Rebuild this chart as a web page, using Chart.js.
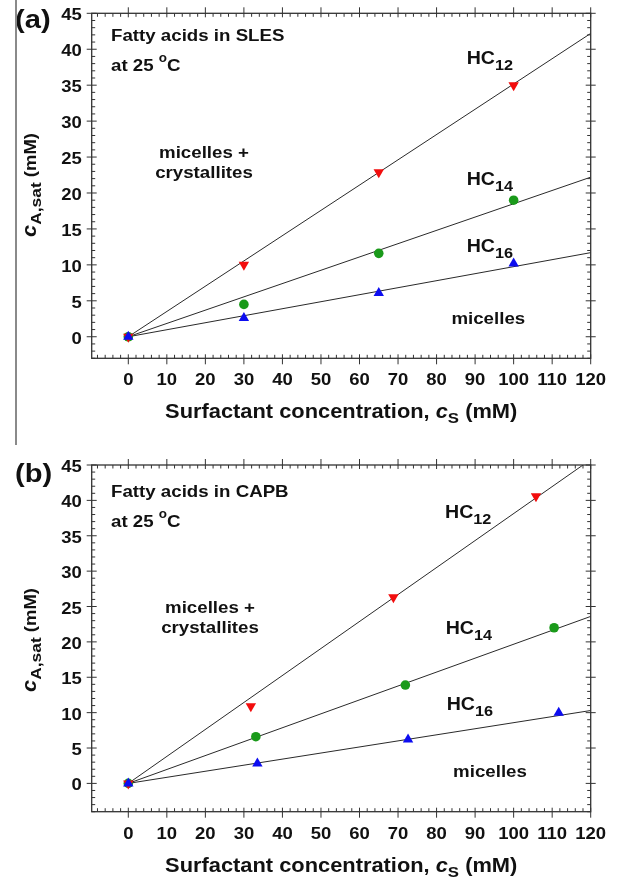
<!DOCTYPE html>
<html><head><meta charset="utf-8">
<script src="https://cdn.jsdelivr.net/npm/chart.js@4/dist/chart.umd.min.js"></script>
<style>
html,body{margin:0;padding:0;background:#fff;}
#wrap{position:relative;width:619px;height:882px;overflow:hidden;background:#fff}
canvas{position:absolute;left:0}
#ca{top:0}
#cb{top:441px}
#edge{position:absolute;left:15px;top:0;width:1.5px;height:445px;background:#8a8a8a}
</style></head><body>
<div id="wrap">
<canvas id="ca" width="619" height="441"></canvas>
<canvas id="cb" width="619" height="441"></canvas>
<div id="edge"></div>
</div>
<script>
// ---- tick labels ----
const xTickLabels = ['0','10','20','30','40','50','60','70','80','90','100','110','120'];
const yTickLabels = ['0','5','10','15','20','25','30','35','40','45'];

// ---- Panel (a): fatty acids in SLES ----
const aCsHC12 = [0, 30, 65, 100];
const aCaHC12 = [0, 10, 22.9, 35];
const aCsHC14 = [0, 30, 65, 100];
const aCaHC14 = [0, 4.5, 11.6, 19];
const aCsHC16 = [0, 30, 65, 100];
const aCaHC16 = [0, 2.6, 6.1, 10.2];
const aFitCs12 = [0, 120];  const aFitCa12 = [0, 42.2];
const aFitCs14 = [0, 120];  const aFitCa14 = [0, 22.2];
const aFitCs16 = [0, 120];  const aFitCa16 = [0, 11.7];

// ---- Panel (b): fatty acids in CAPB ----
const bCsHC12 = [0, 31.8, 68.8, 105.8];
const bCaHC12 = [0, 10.9, 26.3, 40.6];
const bCsHC14 = [0, 33.1, 71.9, 110.5];
const bCaHC14 = [0, 6.6, 13.9, 22.0];
const bCsHC16 = [0, 33.5, 72.6, 111.7];
const bCaHC16 = [0, 2.8, 6.2, 10.0];
const bFitCs12 = [0, 118];  const bFitCa12 = [0, 45];
const bFitCs14 = [0, 120];  const bFitCa14 = [0, 23.6];
const bFitCs16 = [0, 120];  const bFitCa16 = [0, 10.3];

const RED = '#f20d0d', GREEN = '#1a9a1a', BLUE = '#0d0df0';
const SX = 1.12;
const FF = '"Liberation Sans", Arial, Helvetica, sans-serif';

function pts(xs, ys){ return xs.map((x,i)=>({x:x, y:ys[i]})); }
function fnt(p){ return (p.italic ? 'italic ' : '') + 'bold ' + p.size + 'px ' + FF; }
function runs(ctx, parts, x, y, align, rot){
  const w = parts.map(p => { ctx.font = fnt(p); return ctx.measureText(p.t).width; });
  const total = w.reduce((a,b)=>a+b,0);
  let cx = align === 'center' ? -total/2 : (align === 'right' ? -total : 0);
  ctx.save();
  ctx.translate(x, y);
  if (rot) ctx.rotate(rot);
  ctx.scale(SX, 1);
  ctx.textAlign = 'left'; ctx.textBaseline = 'alphabetic'; ctx.fillStyle = '#111';
  parts.forEach((p,i) => { ctx.font = fnt(p); ctx.fillText(p.t, cx, p.dy || 0); cx += w[i]; });
  ctx.restore();
}

function makePanel(id, cfg){
  const deco = {
    id: 'deco',
    afterDraw(chart){
      const ctx = chart.ctx, xs = chart.scales.x, ys = chart.scales.y, a = chart.chartArea;
      ctx.save();
      ctx.strokeStyle = '#333'; ctx.lineWidth = 1.3;
      ctx.strokeRect(a.left, a.top, a.right - a.left, a.bottom - a.top);
      ctx.lineWidth = 1;
      ctx.beginPath();
      // minor x ticks (every 2)
      for (let v = Math.ceil(xs.min/2)*2; v < xs.max; v += 2){
        if (v % 10 === 0 && v >= 0) continue;
        const px = xs.getPixelForValue(v);
        ctx.moveTo(px, a.bottom); ctx.lineTo(px, a.bottom - 3.5);
        ctx.moveTo(px, a.top); ctx.lineTo(px, a.top + 3.5);
      }
      // minor y ticks (every 1)
      for (let v = Math.ceil(ys.min); v < ys.max; v += 1){
        if (v % 5 === 0 && v >= 0) continue;
        const py = ys.getPixelForValue(v);
        ctx.moveTo(a.left, py); ctx.lineTo(a.left + 3.5, py);
        ctx.moveTo(a.right, py); ctx.lineTo(a.right - 3.5, py);
      }
      // major ticks
      xTickLabels.forEach(s => {
        const px = xs.getPixelForValue(Number(s));
        ctx.moveTo(px, a.bottom - 4); ctx.lineTo(px, a.bottom + 6);
        ctx.moveTo(px, a.top + 4); ctx.lineTo(px, a.top - 6);
      });
      yTickLabels.forEach(s => {
        const py = ys.getPixelForValue(Number(s));
        ctx.moveTo(a.left - 5, py); ctx.lineTo(a.left + 5, py);
        ctx.moveTo(a.right - 5, py); ctx.lineTo(a.right + 5, py);
      });
      ctx.stroke();
      ctx.restore();
      // tick labels
      xTickLabels.forEach(s => runs(ctx, [{t:s,size:16.5}], xs.getPixelForValue(Number(s)), a.bottom + 27, 'center'));
      yTickLabels.forEach(s => runs(ctx, [{t:s,size:16.5}], a.left - 10, ys.getPixelForValue(Number(s)) + 7, 'right'));
      // axis titles
      runs(ctx, [{t:'Surfactant concentration, ',size:19.5},{t:'c',size:19.5,italic:true},{t:'S',size:15,dy:5},{t:' (mM)',size:19.5}],
           (a.left + a.right)/2, a.bottom + 60, 'center');
      runs(ctx, [{t:'c',size:19.5,italic:true},{t:'A,sat',size:15.5,dy:5},{t:' (mM)',size:16.5}],
           36, cfg.yTitleY, 'center', -Math.PI/2);
      // panel annotations
      runs(ctx, [{t:cfg.tag,size:26}], 15, cfg.tagY, 'left');
      runs(ctx, [{t:cfg.title,size:16.7}], 111, cfg.titleY, 'left');
      runs(ctx, [{t:'at 25 ',size:16.7},{t:'o',size:12,dy:-9},{t:'C',size:16.7}], 111, cfg.titleY + 30, 'left');
      runs(ctx, [{t:'micelles +',size:16.7}], cfg.mcX, cfg.mcY, 'center');
      runs(ctx, [{t:'crystallites',size:16.7}], cfg.mcX, cfg.mcY + 20, 'center');
      cfg.hc.forEach(h => runs(ctx, [{t:'HC',size:17.5},{t:h.n,size:14.5,dy:6}], h.x, h.y, 'left'));
      runs(ctx, [{t:'micelles',size:16.7}], cfg.mX, cfg.mY, 'center');
    }
  };
  const line = (d) => ({data:d, showLine:true, borderColor:'#2a2a2a', borderWidth:1, pointRadius:0, fill:false, order:2});
  new Chart(document.getElementById(id), {
    type: 'scatter',
    data: { datasets: [
      {data: cfg.s12, pointStyle:'triangle', rotation:180, pointRadius:6, backgroundColor:RED, borderColor:RED, borderWidth:0, order:1},
      {data: cfg.s14, pointStyle:'circle', pointRadius:4.8, backgroundColor:GREEN, borderColor:GREEN, borderWidth:0, order:1},
      {data: cfg.s16, pointStyle:'triangle', pointRadius:6, backgroundColor:BLUE, borderColor:BLUE, borderWidth:0, order:0},
      line(cfg.f12), line(cfg.f14), line(cfg.f16)
    ]},
    options: {
      responsive:false, animation:false, devicePixelRatio:1,
      layout:{padding:cfg.pad},
      plugins:{legend:{display:false}, tooltip:{enabled:false}},
      scales:{
        x:{type:'linear', min:-9.5, max:120, display:false},
        y:{type:'linear', min:cfg.ymin, max:45, display:false}
      }
    },
    plugins:[deco]
  });
}

makePanel('ca', {
  s12: pts(aCsHC12, aCaHC12), s14: pts(aCsHC14, aCaHC14), s16: pts(aCsHC16, aCaHC16),
  f12: pts(aFitCs12, aFitCa12), f14: pts(aFitCs14, aFitCa14), f16: pts(aFitCs16, aFitCa16),
  ymin:-3, pad:{left:91.7, right:28.3, top:13.3, bottom:82.7},
  tag:'(a)', tagY:27.5, title:'Fatty acids in SLES', titleY:40.7,
  mcX:204, mcY:158.3, mX:488.3, mY:324, yTitleY:185,
  hc:[{n:'12',x:466.7,y:64},{n:'14',x:466.7,y:185},{n:'16',x:466.7,y:251.7}]
});
makePanel('cb', {
  s12: pts(bCsHC12, bCaHC12), s14: pts(bCsHC14, bCaHC14), s16: pts(bCsHC16, bCaHC16),
  f12: pts(bFitCs12, bFitCa12), f14: pts(bFitCs14, bFitCa14), f16: pts(bFitCs16, bFitCa16),
  ymin:-4, pad:{left:91.7, right:28.3, top:24, bottom:70.3},
  tag:'(b)', tagY:40.5, title:'Fatty acids in CAPB', titleY:55.7,
  mcX:210, mcY:172.3, mX:490, mY:336.3, yTitleY:199,
  hc:[{n:'12',x:445,y:77.3},{n:'14',x:445.7,y:193},{n:'16',x:446.7,y:269}]
});
</script>
</body></html>
